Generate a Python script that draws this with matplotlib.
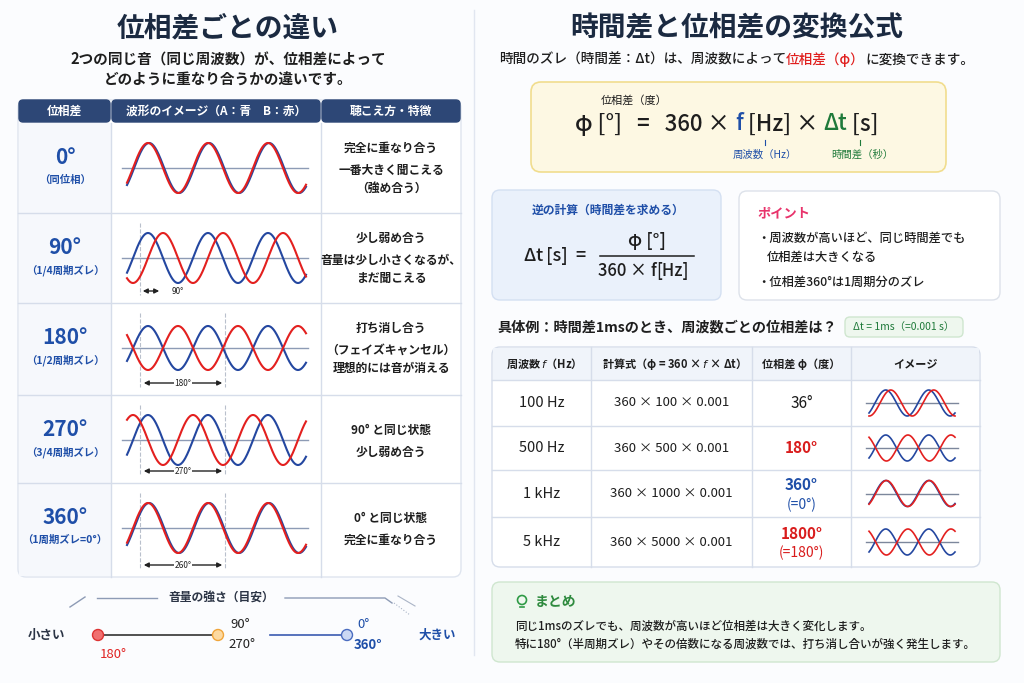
import numpy as np
import matplotlib
matplotlib.use("Agg")
import matplotlib.pyplot as plt
from matplotlib.patches import FancyBboxPatch, Circle

plt.rcParams['font.family'] = ['Noto Sans CJK JP', 'DejaVu Sans']

# ---- data ----
left_title = "位相差ごとの違い"
left_sub = ["2つの同じ音（同じ周波数）が、位相差によって", "どのように重なり合うかの違いです。"]
left_headers = ["位相差", "波形のイメージ（A：青　B：赤）", "聴こえ方・特徴"]
phase_deg = [0, 90, 180, 270, 360]
phase_labels = ["0°", "90°", "180°", "270°", "360°"]
phase_notes = ["（同位相）", "（1/4周期ズレ）", "（1/2周期ズレ）", "（3/4周期ズレ）", "（1周期ズレ=0°）"]
arrow_labels = [None, "90°", "180°", "270°", "260°"]
descriptions = [
    ["完全に重なり合う", "一番大きく聞こえる", "（強め合う）"],
    ["少し弱め合う", "音量は少し小さくなるが、", "まだ聞こえる"],
    ["打ち消し合う", "（フェイズキャンセル）", "理想的には音が消える"],
    ["90° と同じ状態", "少し弱め合う"],
    ["0° と同じ状態", "完全に重なり合う"],
]

right_title = "時間差と位相差の変換公式"
ex_freq_labels = ["100 Hz", "500 Hz", "1 kHz", "5 kHz"]
ex_freq = [100, 500, 1000, 5000]
dt = 0.001
ex_phase_text = ["36°", "180°", "360°\n(=0°)", "1800°\n(=180°)"]
ex_phase_shown = [36, 180, 0, 180]   # phase drawn in the small image
ex_phase_colors = ["#1a1a1a", "#d91c1c", "#1f4fa8", "#d91c1c"]
ex_headers = ["周波数 $f$（Hz）", "計算式（φ = 360 × $f$ × Δt）", "位相差 φ（度）", "イメージ"]
summary = ["同じ1msのズレでも、周波数が高いほど位相差は大きく変化します。",
           "特に180°（半周期ズレ）やその倍数になる周波数では、打ち消し合いが強く発生します。"]

BLUE = "#2447a0"
RED = "#e3201f"
NAVY = "#1b2a41"
TXT = "#1e1e1e"
GRID = "#d6ddea"

fig = plt.figure(figsize=(10.24, 6.83), dpi=100)
fig.patch.set_facecolor("#fbfcfe")
ax = fig.add_axes([0, 0, 1, 1])
ax.set_xlim(0, 1024)
ax.set_ylim(683, 0)
ax.axis("off")


def box(x0, y0, x1, y1, fc, ec, r=8, lw=1.0, z=1):
    p = FancyBboxPatch((x0, y0), x1 - x0, y1 - y0,
                       boxstyle=f"round,pad=0,rounding_size={r}",
                       fc=fc, ec=ec, lw=lw, zorder=z)
    ax.add_patch(p)


def t(x, y, s, size=9, color=TXT, weight="bold", ha="center", **kw):
    return ax.text(x, y, s, fontsize=size, color=color, fontweight=weight,
                   ha=ha, va="center", **kw)


def chain(x, y, parts, size, weight="medium"):
    # parts: list of (text, color, style), laid out one after another
    fig.canvas.draw()
    r = fig.canvas.get_renderer()
    inv = ax.transData.inverted()
    for s, c, st in parts:
        tx = ax.text(x, y, s, fontsize=size, color=c, fontweight=weight,
                     fontstyle=st, ha="left", va="center")
        bb = tx.get_window_extent(renderer=r)
        x = inv.transform((bb.x1, bb.y0))[0]
    return x


# separator
ax.plot([474, 474], [10, 655], color="#e1e6f0", lw=1)

# ================= LEFT =================
t(228, 28, left_title, size=20, color=NAVY)
t(228, 60, left_sub[0], size=10.5)
t(228, 80, left_sub[1], size=10.5)

cols = [18, 111, 321, 461]
rows = [123, 213, 303, 395, 483, 577]
box(18, 100, 461, 577, "#ffffff", "#dfe5ef", r=8)
for i in range(3):
    box(cols[i] + 1, 100, cols[i + 1] - 1, 122, "#2d4776", "#2d4776", r=4, z=2)
    ax.text((cols[i] + cols[i + 1]) / 2, 111, left_headers[i], fontsize=8.5, color="white",
            fontweight="bold", ha="center", va="center", zorder=3)
ax.add_patch(plt.Rectangle((19, 123), 92, 453, fc="#f6f8fc", ec="none", zorder=1.5))
for y in rows[1:-1]:
    ax.plot([18, 461], [y, y], color=GRID, lw=1, zorder=2)
for x in cols[1:3]:
    ax.plot([x, x], [123, 577], color=GRID, lw=1, zorder=2)

P = 60.0
x0w = 133.0
xs = np.linspace(127, 306, 400)
for i, ph in enumerate(phase_deg):
    top, bot = rows[i], rows[i + 1]
    mid = top + 45
    amp = 22 if ph == 180 else 25
    t(65, mid - 10, phase_labels[i], size=15, color="#1f4fa8", zorder=3)
    t(65, mid + 12, phase_notes[i], size=7.5, color="#1f4fa8", zorder=3)
    ax.plot([122, 308], [mid, mid], color="#8d9bb5", lw=1, zorder=3)
    arg = 2 * np.pi * (xs - x0w) / P
    off = 0.12 if ph % 360 == 0 else 0.0
    ax.plot(xs, mid - amp * np.sin(arg - off), color=BLUE, lw=1.5, zorder=4)
    ax.plot(xs, mid - amp * np.sin(arg - np.radians(ph)), color=RED, lw=1.5, zorder=5)
    # descriptions
    d = descriptions[i]
    if len(d) == 3:
        ys = [mid - 20, mid + 2, mid + 20]
    else:
        ys = [mid - 10, mid + 12]
    for yy, s in zip(ys, d):
        t(391, yy, s, size=8.5, zorder=3)
    # arrows
    if arrow_labels[i] is None:
        continue
    ay = bot - 12
    if ph == 90:
        ax.plot([140, 140], [top + 10, ay + 4], color="#b9c0cc", lw=0.8, ls="--", zorder=3)
        ax.annotate("", xy=(162, ay), xytext=(140, ay),
                    arrowprops=dict(arrowstyle="<|-|>", color="#222", lw=1, mutation_scale=7), zorder=6)
        t(178, ay, arrow_labels[i], size=6, weight="normal", zorder=6)
    else:
        for xv in (140, 225):
            ax.plot([xv, xv], [top + 10, ay + 4], color="#b9c0cc", lw=0.8, ls="--", zorder=3)
        ax.annotate("", xy=(225, ay), xytext=(141, ay),
                    arrowprops=dict(arrowstyle="<|-|>", color="#222", lw=1, mutation_scale=7), zorder=6)
        ax.text(183, ay, arrow_labels[i], fontsize=6, color="#222", ha="center", va="center",
                zorder=7, bbox=dict(fc="white", ec="none", pad=0.5))

# volume scale
t(221, 598, "音量の強さ（目安）", size=8.5, color="#2b3445")
ax.plot([97, 157], [598, 598], color="#8d9bb5", lw=1)
ax.plot([285, 385, 392], [598, 598, 603], color="#8d9bb5", lw=1)
ax.plot([70, 85], [607, 597], color="#8d9bb5", lw=1)
ax.plot([398, 415], [596, 606], color="#aab4c6", lw=0.8)
ax.plot([394, 410], [603, 615], color="#aab4c6", lw=0.8, ls=":")
t(46, 635, "小さい", size=9, color="#2b3445")
ax.plot([98, 218], [635, 635], color="#333", lw=1.2, zorder=2)
ax.plot([270, 347], [635, 635], color="#3a5bb0", lw=1.2, zorder=2)
ax.add_patch(Circle((98, 635), 5.5, fc="#f07070", ec="#d33", lw=1, zorder=3))
ax.add_patch(Circle((218, 635), 5.5, fc="#fcd9a0", ec="#f0a53a", lw=1, zorder=3))
ax.add_patch(Circle((347, 635), 5.5, fc="#cbd8f3", ec="#4a6cc0", lw=1, zorder=3))
t(113, 655, "180°", size=9.5, color="#e02424", weight="normal")
t(240, 624, "90°", size=9.5, color="#222", weight="normal")
t(242, 645, "270°", size=9.5, color="#222", weight="normal")
t(363, 625, "0°", size=9.5, color="#1f4fa8", weight="normal")
t(368, 645, "360°", size=9.5, color="#1f4fa8")
t(437, 635, "大きい", size=9, color="#1f4fa8")

# ================= RIGHT =================
t(737, 28, right_title, size=20, color=NAVY)
chain(499, 60, [("時間のズレ（時間差：Δt）は、周波数によって", TXT, "normal"),
                ("位相差（φ）", "#e0201f", "normal"),
                ("に変換できます。", TXT, "normal")], 9.8)

# formula box
box(531, 82, 946, 172, "#fdf8e3", "#f1dd8e", r=10, lw=1.2)
t(634, 100, "位相差（度）", size=8, weight="normal")
chain(575, 124, [("φ [°]   =   360 × ", TXT, "normal"),
                 ("f", "#1f4fa8", "italic"),
                 (" [Hz] × ", TXT, "normal"),
                 ("Δ", "#1f7a3a", "normal"),
                 ("t", "#1f7a3a", "italic"),
                 (" [s]", TXT, "normal")], 16)
ax.plot([765, 765], [140, 145], color="#1f4fa8", lw=0.8)
ax.plot([860, 860], [140, 145], color="#1f7a3a", lw=0.8)
t(765, 155, "周波数（Hz）", size=7.5, color="#1f4fa8", weight="normal")
t(862, 155, "時間差（秒）", size=7.5, color="#1f7a3a", weight="normal")

# inverse box
box(492, 190, 721, 300, "#eaf1fb", "#d4e0f2", r=8)
t(608, 210, "逆の計算（時間差を求める）", size=8.5, color="#1f4fa8")
chain(523, 256, [("Δ", TXT, "normal"), ("t", TXT, "italic"), (" [s]  =", TXT, "normal")], 13)
chain(628, 241, [("φ [°]", TXT, "normal")], 13)
ax.plot([600, 694], [256, 256], color=TXT, lw=1.1)
chain(598, 271, [("360 × ", TXT, "normal"), ("f", TXT, "italic"), ("[Hz]", TXT, "normal")], 12)

# point box
box(739, 191, 1000, 300, "#ffffff", "#dde2ea", r=8)
t(757, 213, "ポイント", size=9.5, color="#e8336b", ha="left")
t(757, 238, "・周波数が高いほど、同じ時間差でも", size=8.8, ha="left", weight="medium")
t(767, 257, "位相差は大きくなる", size=8.8, ha="left", weight="medium")
t(757, 282, "・位相差360°は1周期分のズレ", size=8.8, ha="left", weight="medium")

# example heading
t(497, 327, "具体例：時間差1msのとき、周波数ごとの位相差は？", size=10.2, ha="left")
box(845, 317, 963, 337, "#eef7ee", "#cfe6cf", r=5)
t(904, 327, "Δt = 1ms（=0.001 s）", size=7.5, color="#1f7a3a", weight="normal")

# example table
tc = [492, 591, 752, 851, 980]
tr = [347, 380, 426, 470, 517, 567]
box(492, 347, 980, 567, "#ffffff", "#d6ddea", r=8)
ax.add_patch(plt.Rectangle((493, 348), 486, 32, fc="#f0f4fa", ec="none", zorder=1.5))
for y in tr[1:-1]:
    ax.plot([492, 980], [y, y], color=GRID, lw=1, zorder=2)
for x in tc[1:-1]:
    ax.plot([x, x], [347, 567], color=GRID, lw=1, zorder=2)
for j, h in enumerate(ex_headers):
    t((tc[j] + tc[j + 1]) / 2, 364, h, size=8, zorder=3)
xm = np.linspace(869, 955, 200)
for i in range(4):
    cy = (tr[i + 1] + tr[i + 2]) / 2
    t((tc[0] + tc[1]) / 2, cy, ex_freq_labels[i], size=10.5, weight="normal", zorder=3)
    t((tc[1] + tc[2]) / 2, cy, f"360 × {ex_freq[i]} × {dt}", size=9.5, weight="normal", zorder=3)
    lines = ex_phase_text[i].split("\n")
    if len(lines) == 1:
        t((tc[2] + tc[3]) / 2, cy, lines[0], size=11, color=ex_phase_colors[i], zorder=3,
          weight="bold" if i else "normal")
    else:
        t((tc[2] + tc[3]) / 2, cy - 8, lines[0], size=11, color=ex_phase_colors[i], zorder=3)
        t((tc[2] + tc[3]) / 2, cy + 11, lines[1], size=10, color=ex_phase_colors[i], zorder=3,
          weight="normal")
    ax.plot([866, 958], [cy, cy], color="#7c879c", lw=1, zorder=3)
    arg = 2 * np.pi * (xm - 875) / 43.0
    ax.plot(xm, cy - 13 * np.sin(arg), color=BLUE, lw=1.2, zorder=4)
    ax.plot(xm, cy - 13 * np.sin(arg - np.radians(ex_phase_shown[i]) - 0.1), color=RED,
            lw=1.2, zorder=4)

# summary box
box(492, 582, 1000, 662, "#eef7ee", "#cfe6cf", r=8)
ax.add_patch(Circle((522, 600), 4.5, fc="none", ec="#2e9a45", lw=1.2))
ax.plot([520, 524], [607, 607], color="#2e9a45", lw=1.2)
t(535, 602, "まとめ", size=10, color="#2e8a3e", ha="left")
t(515, 626, summary[0], size=8.3, ha="left", weight="medium")
t(515, 644, summary[1], size=8.3, ha="left", weight="medium")

fig.savefig("out.png", dpi=100, facecolor=fig.get_facecolor())
